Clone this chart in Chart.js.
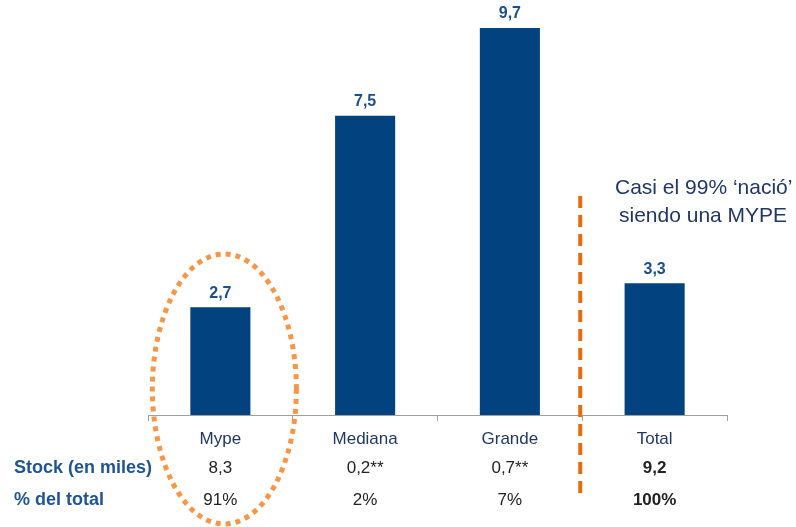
<!DOCTYPE html>
<html lang="es">
  <head>
    <meta charset="UTF-8" />
    <title>Stock por tamaño de empresa</title>
    <script src="https://cdn.jsdelivr.net/npm/chart.js"></script>
    <style>
      body {
        margin: 0;
        background: #fff;
      }
      #wrap {
        width: 796px;
        height: 527px;
      }
    </style>
  </head>
  <body>
    <div id="wrap"><canvas id="chart" width="796" height="527"></canvas></div>

    <script>
      // data
      const categories = ['Mype', 'Mediana', 'Grande', 'Total']
      const values = [2.7, 7.5, 9.7, 3.3]
      const stockRow = ['8,3', '0,2**', '0,7**', '9,2']
      const pctRow = ['91%', '2%', '7%', '100%']
      const rowTitles = ['Stock (en miles)', '% del total']
      const noteLines = ['Casi el 99% \u2018nació\u2019', 'siendo una MYPE']

      const FONT = 'Arial, "Liberation Sans", sans-serif'

      const extras = {
        id: 'extras',
        afterDatasetsDraw(chart) {
          const ctx = chart.ctx
          const x = chart.scales.x
          const meta = chart.getDatasetMeta(0)

          ctx.save()
          // value labels above bars
          ctx.fillStyle = '#1A4F8B'
          ctx.font = 'bold 16px ' + FONT
          ctx.textAlign = 'center'
          ctx.textBaseline = 'middle'
          meta.data.forEach((bar, i) => {
            ctx.fillText(values[i].toFixed(1).replace('.', ','), bar.x, bar.y - 14)
          })

          // table rows
          const rowY = [468, 500]
          ctx.textAlign = 'left'
          ctx.fillStyle = '#1F5591'
          ctx.font = 'bold 18px ' + FONT
          rowTitles.forEach((t, r) => ctx.fillText(t, 14, rowY[r]))

          ctx.textAlign = 'center'
          ;[stockRow, pctRow].forEach((row, r) => {
            row.forEach((txt, i) => {
              const last = i === row.length - 1
              ctx.fillStyle = '#222'
              ctx.font = (last ? 'bold ' : '') + '17px ' + FONT
              ctx.fillText(txt, x.getPixelForValue(i), rowY[r])
            })
          })

          // dashed separator
          const sepX = (x.getPixelForValue(2) + x.getPixelForValue(3)) / 2 - 2
          ctx.strokeStyle = '#E46C0A'
          ctx.lineWidth = 4
          ctx.setLineDash([12, 7])
          ctx.beginPath()
          ctx.moveTo(sepX, 196)
          ctx.lineTo(sepX, 498)
          ctx.stroke()

          // dotted ellipse around Mype
          ctx.strokeStyle = '#F79646'
          ctx.lineWidth = 5
          ctx.setLineDash([5, 5])
          ctx.beginPath()
          ctx.ellipse(x.getPixelForValue(0) + 4, 389, 72, 135, 0, 0, Math.PI * 2)
          ctx.stroke()
          ctx.setLineDash([])

          // note
          ctx.fillStyle = '#1F3864'
          ctx.font = '21px ' + FONT
          ctx.textAlign = 'left'
          ctx.fillText(noteLines[0], 615, 188)
          ctx.fillText(noteLines[1], 619, 216)
          ctx.restore()
        },
      }

      new Chart(document.getElementById('chart'), {
        type: 'bar',
        data: {
          labels: categories,
          datasets: [
            {
              data: values,
              backgroundColor: '#01427F',
              barPercentage: 0.83,
              categoryPercentage: 0.5,
            },
          ],
        },
        options: {
          responsive: false,
          animation: false,
          layout: { padding: { left: 148, right: 69, top: 16, bottom: 0 } },
          plugins: { legend: { display: false }, tooltip: { enabled: false } },
          scales: {
            y: { display: false, min: 0, max: 10 },
            x: {
              afterFit(scale) {
                scale.height = 112
              },
              border: { display: true, color: '#A0A0A0', width: 1 },
              grid: {
                offset: true,
                drawOnChartArea: false,
                drawTicks: true,
                tickLength: 6,
                color: '#A0A0A0',
              },
              ticks: {
                color: '#1F3864',
                font: { family: FONT, size: 17 },
                padding: 8,
              },
            },
          },
        },
        plugins: [extras],
      })
    </script>
  </body>
</html>
